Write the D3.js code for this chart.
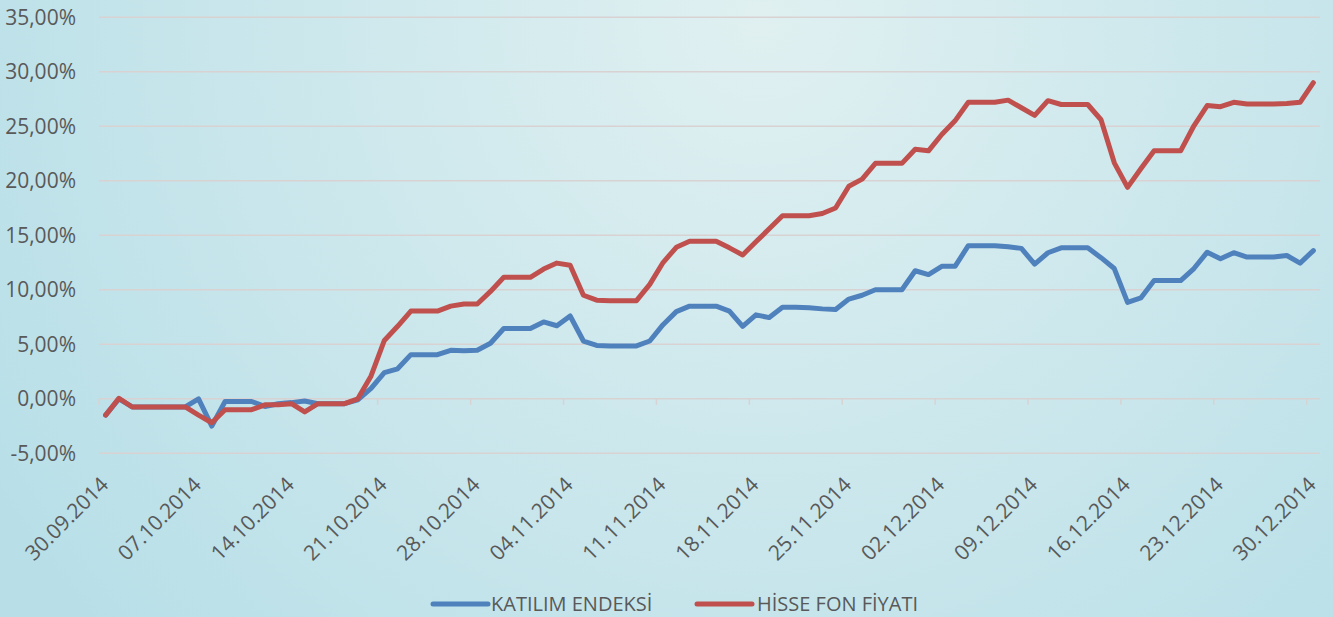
<!DOCTYPE html>
<html>
<head>
<meta charset="utf-8">
<script src="https://cdn.jsdelivr.net/npm/d3@7"></script>
<style>
  body { margin: 0; overflow: hidden; }
  text { font-family: "Open Sans", sans-serif; fill: #595959; }
</style>
</head>
<body>
<script>
// Data (daily, 30.09.2014 - 30.12.2014), values in %
const startDate = new Date(2014, 8, 30);
const endDate = new Date(2014, 11, 31);
const days = d3.timeDay.range(startDate, endDate);

const katilim = [
  -1.5, 0, -0.75, -0.75, -0.75, -0.75, -0.75, 0, -2.5, -0.25,
  -0.25, -0.25, -0.7, -0.45, -0.35, -0.2, -0.45, -0.45, -0.45, -0.1,
  0.95, 2.4, 2.75, 4.05, 4.05, 4.05, 4.45, 4.4, 4.45, 5.1,
  6.45, 6.45, 6.45, 7.05, 6.7, 7.6, 5.3, 4.9, 4.85, 4.85,
  4.85, 5.3, 6.8, 8.0, 8.5, 8.5, 8.5, 8.05, 6.65, 7.7,
  7.45, 8.4, 8.4, 8.35, 8.25, 8.2, 9.15, 9.5, 10.0, 10.0,
  10.0, 11.75, 11.4, 12.15, 12.15, 14.05, 14.05, 14.05, 13.95, 13.8,
  12.35, 13.4, 13.85, 13.85, 13.85, 12.95, 11.95, 8.85, 9.25, 10.85,
  10.85, 10.85, 11.95, 13.45, 12.85, 13.4, 13.0, 13.0, 13.0, 13.15,
  12.45, 13.6
];

const hisseFon = [
  -1.5, 0.05, -0.75, -0.75, -0.75, -0.75, -0.75, -1.5, -2.2, -1.0,
  -1.0, -1.0, -0.55, -0.55, -0.45, -1.2, -0.45, -0.45, -0.45, 0,
  2.1, 5.35, 6.65, 8.05, 8.05, 8.05, 8.5, 8.7, 8.7, 9.85,
  11.15, 11.15, 11.15, 11.9, 12.45, 12.25, 9.5, 9.05, 9.0, 9.0,
  9.0, 10.5, 12.5, 13.9, 14.45, 14.45, 14.45, 13.85, 13.2, 14.4,
  15.6, 16.8, 16.8, 16.8, 17.0, 17.5, 19.5, 20.15, 21.6, 21.6,
  21.6, 22.9, 22.75, 24.25, 25.5, 27.2, 27.2, 27.2, 27.4, 26.7,
  26.0, 27.35, 27.0, 27.0, 27.0, 25.6, 21.65, 19.4, 21.1, 22.75,
  22.75, 22.75, 25.05, 26.9, 26.8, 27.2, 27.05, 27.05, 27.05, 27.1,
  27.2, 29.0
];

const tickLabels = [
  "30.09.2014", "07.10.2014", "14.10.2014", "21.10.2014", "28.10.2014",
  "04.11.2014", "11.11.2014", "18.11.2014", "25.11.2014", "02.12.2014",
  "09.12.2014", "16.12.2014", "23.12.2014", "30.12.2014"
];
const yTicks = [-5, 0, 5, 10, 15, 20, 25, 30, 35];

const seriesNames = ["KATILIM ENDEKSİ", "HİSSE FON FİYATI"];
const seriesColors = ["#4f81bd", "#c0504d"];

// Layout
const width = 1333;
const height = 617;
const plot = { left: 99, right: 1320, top: 17.3, bottom: 453.3 };

const svg = d3.select("body")
  .append("svg")
  .attr("width", width)
  .attr("height", height);

// Background
const defs = svg.append("defs");
const grad = defs.append("radialGradient")
  .attr("id", "bg")
  .attr("gradientUnits", "userSpaceOnUse")
  .attr("cx", 760).attr("cy", 20).attr("r", 900);
grad.append("stop").attr("offset", "0%").attr("stop-color", "#e0f0f1");
grad.append("stop").attr("offset", "100%").attr("stop-color", "#b8dfe8");
svg.append("rect")
  .attr("width", width)
  .attr("height", height)
  .attr("fill", "url(#bg)");

// Scales
const x = d3.scaleBand()
  .domain(days)
  .range([plot.left, plot.right])
  .padding(0);
const cx = d => x(d) + x.bandwidth() / 2;

const y = d3.scaleLinear()
  .domain([-5, 35])
  .range([plot.bottom, plot.top]);

// Gridlines
svg.append("g")
  .selectAll("line")
  .data(yTicks)
  .enter().append("line")
  .attr("x1", plot.left)
  .attr("x2", plot.right)
  .attr("y1", d => y(d))
  .attr("y2", d => y(d))
  .attr("stroke", "#d9d2d2")
  .attr("stroke-width", 1.5);

// Y labels
const fmt = v => v.toFixed(2).replace(".", ",") + "%";
svg.append("g")
  .selectAll("text")
  .data(yTicks)
  .enter().append("text")
  .attr("x", 76)
  .attr("y", d => y(d))
  .attr("dy", "0.36em")
  .attr("text-anchor", "end")
  .style("font-size", "21px")
  .text(fmt);

// Category axis on the 0% line, tick every 7 days
const tickDays = days.filter((d, i) => i % 7 === 0);
svg.append("g")
  .selectAll("line")
  .data(tickDays)
  .enter().append("line")
  .attr("x1", d => x(d))
  .attr("x2", d => x(d))
  .attr("y1", y(0))
  .attr("y2", y(0) + 6)
  .attr("stroke", "#d9d2d2")
  .attr("stroke-width", 1.5);

svg.append("g")
  .selectAll("text")
  .data(tickDays)
  .enter().append("text")
  .attr("transform", d => `translate(${cx(d) + 4},${486}) rotate(-45)`)
  .attr("text-anchor", "end")
  .style("font-size", "21px")
  .text((d, i) => tickLabels[i]);

// Lines
const line = d3.line()
  .x((v, i) => cx(days[i]))
  .y(v => y(v));

[katilim, hisseFon].forEach((values, k) => {
  svg.append("path")
    .datum(values)
    .attr("fill", "none")
    .attr("stroke", seriesColors[k])
    .attr("stroke-width", 5)
    .attr("stroke-linejoin", "round")
    .attr("stroke-linecap", "round")
    .attr("d", line);
});

// Legend
const legendItems = [
  { x1: 433, x2: 488, tx: 491 },
  { x1: 697, x2: 752, tx: 757 }
];
const legend = svg.append("g");
legendItems.forEach((it, k) => {
  legend.append("line")
    .attr("x1", it.x1).attr("x2", it.x2)
    .attr("y1", 604).attr("y2", 604)
    .attr("stroke", seriesColors[k])
    .attr("stroke-width", 5)
    .attr("stroke-linecap", "round");
  legend.append("text")
    .attr("x", it.tx)
    .attr("y", 604)
    .attr("dy", "0.36em")
    .style("font-size", "20px")
    .text(seriesNames[k]);
});
</script>
</body>
</html>
